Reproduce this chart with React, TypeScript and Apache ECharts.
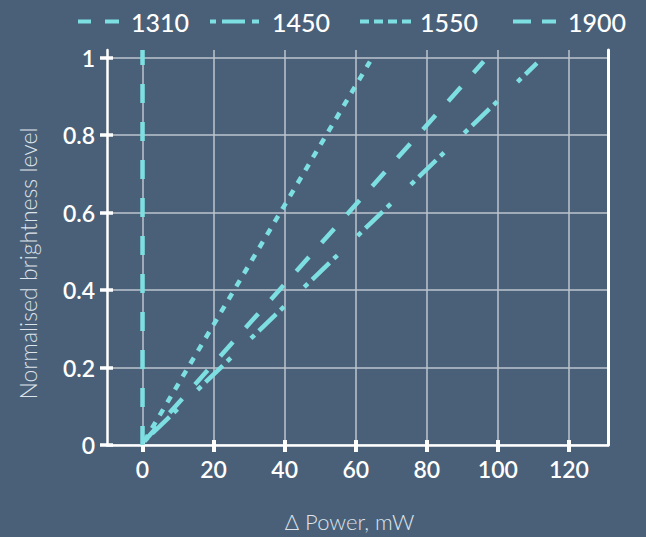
import React, { useEffect, useRef } from "react";
import * as echarts from "echarts";

const seriesNames = ["1310", "1450", "1550", "1900"];
const data1310: [number, number][] = [[0, 0], [0, 1.02]];
const data1450: [number, number][] = [[0.5, 0.01], [111, 0.986]];
const data1550: [number, number][] = [[0.5, 0.01], [64, 0.99]];
const data1900: [number, number][] = [[0.5, 0.01], [96, 0.99]];
const xTicks = [0, 20, 40, 60, 80, 100, 120];
const yTicks = [0, 0.2, 0.4, 0.6, 0.8, 1];

const BG = "#4a6078";
const CYAN = "#7ddfe2";
const GRID = "#bcc4ce";
const FONT = "Lato";

export default function App() {
  const ref = useRef<HTMLDivElement>(null);
  useEffect(() => {
    if (!ref.current) return;
    const chart = echarts.init(ref.current, null, { renderer: "svg" });
    const legendDefs = [
      { name: seriesNames[0], left: 76, w: 48, dash: [13, 14, 14, 20] },
      { name: seriesNames[1], left: 208, w: 57, dash: [6, 6, 23, 7, 7, 20] },
      { name: seriesNames[2], left: 358, w: 55, dash: [9, 5] },
      { name: seriesNames[3], left: 511, w: 50, dash: [18, 11, 14, 20] },
    ];
    const lineW = 4.5;
    chart.setOption({
      animation: false,
      backgroundColor: BG,
      legend: legendDefs.map((l) => ({
        data: [l.name],
        left: l.left,
        top: 9,
        padding: 0,
        itemWidth: l.w,
        itemHeight: 14,
        itemStyle: { opacity: 0 },
        lineStyle: { type: l.dash, width: 4, color: CYAN, cap: "butt" },
        textStyle: { color: "#ffffff", fontSize: 25, fontFamily: FONT, fontWeight: 500 },
      })),
      grid: { left: 107, right: 38, top: 50, bottom: 92, containLabel: false },
      xAxis: [
        {
          type: "value",
          min: -10,
          max: 131,
          position: "bottom",
          name: "Δ Power, mW",
          nameLocation: "middle",
          nameGap: 65,
          nameTextStyle: { color: "#dde3ea", fontSize: 22, fontFamily: FONT, fontWeight: 300, padding: [0, 16, 0, 0] },
          axisLine: { show: true, onZero: false, lineStyle: { color: "#ffffff", width: 2.5 } },
          axisTick: { show: true, inside: false, length: 7, customValues: xTicks, lineStyle: { color: "#ffffff", width: 4 } },
          axisLabel: { customValues: xTicks, color: "#ffffff", fontSize: 23, fontFamily: FONT, fontWeight: 600, margin: 12 },
          splitLine: { show: true, lineStyle: { color: GRID, width: 1.5 } },
        },
        {
          type: "value",
          min: -10,
          max: 131,
          position: "bottom",
          axisLine: { show: false, onZero: false },
          axisTick: { show: true, inside: true, length: 5, customValues: xTicks, lineStyle: { color: "#ffffff", width: 4 } },
          axisLabel: { show: false },
          splitLine: { show: false },
        },
      ],
      yAxis: [
        {
          type: "value",
          min: 0,
          max: 1.02,
          position: "left",
          name: "Normalised brightness level",
          nameLocation: "middle",
          nameGap: 68,
          nameTextStyle: { color: "#dde3ea", fontSize: 23, fontFamily: FONT, fontWeight: 300, padding: [0, 32, 0, 0] },
          axisLine: { show: true, onZero: false, lineStyle: { color: "#ffffff", width: 2.5 } },
          axisTick: { show: true, inside: false, length: 7, customValues: yTicks, lineStyle: { color: "#ffffff", width: 3.5 } },
          axisLabel: { customValues: yTicks, color: "#ffffff", fontSize: 23, fontFamily: FONT, fontWeight: 600, margin: 12 },
          splitLine: { show: true, lineStyle: { color: GRID, width: 1.5 } },
        },
        {
          type: "value",
          min: 0,
          max: 1.02,
          position: "right",
          axisLine: { show: true, onZero: false, lineStyle: { color: "#ffffff", width: 3 } },
          axisTick: { show: false },
          axisLabel: { show: false },
          splitLine: { show: false },
        },
        {
          type: "value",
          min: 0,
          max: 1.02,
          position: "left",
          axisLine: { show: false, onZero: false },
          axisTick: { show: true, inside: true, length: 6, customValues: yTicks, lineStyle: { color: "#ffffff", width: 3.5 } },
          axisLabel: { show: false },
          splitLine: { show: false },
        },
      ],
      series: [
        { name: seriesNames[0], type: "line", data: data1310, symbol: "none", lineStyle: { color: CYAN, width: lineW, type: [19, 19], cap: "butt" }, itemStyle: { color: CYAN } },
        { name: seriesNames[1], type: "line", data: data1450, symbol: "none", lineStyle: { color: CYAN, width: lineW, type: [5, 6, 24, 6, 5, 28], cap: "butt" }, itemStyle: { color: CYAN } },
        { name: seriesNames[2], type: "line", data: data1550, symbol: "none", lineStyle: { color: CYAN, width: lineW, type: [7, 8], cap: "butt" }, itemStyle: { color: CYAN } },
        { name: seriesNames[3], type: "line", data: data1900, symbol: "none", lineStyle: { color: CYAN, width: lineW, type: [19, 19], cap: "butt" }, itemStyle: { color: CYAN } },
      ],
    });
    return () => chart.dispose();
  }, []);
  return (
    <div
      ref={ref}
      style={{ position: "absolute", left: 0, top: 0, width: 646, height: 537, background: BG }}
    />
  );
}
